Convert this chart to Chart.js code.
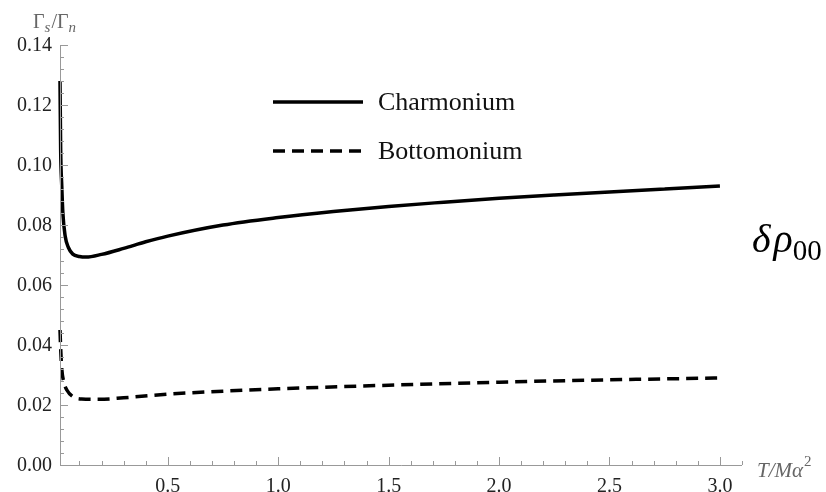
<!DOCTYPE html>
<html>
<head>
<meta charset="utf-8">
<title>Spin-flip ratio</title>
<script src="https://cdn.jsdelivr.net/npm/chart.js@4.4.1/dist/chart.umd.min.js"></script>
<style>
  html, body { margin: 0; padding: 0; background: #fff; overflow: hidden; }
  #wrap { width: 826px; height: 492px; }
</style>
</head>
<body>
<div id="wrap"><canvas id="ratioChart" width="826" height="492"></canvas></div>
<script>
// temperature grid (T / M alpha^2) and ratio values for each system
const tCharm = [0.012, 0.015, 0.02, 0.025, 0.035, 0.05, 0.07, 0.1, 0.13, 0.2, 0.3, 0.4, 0.5, 0.75, 1.0, 1.25, 1.5, 1.75, 2.0, 2.25, 2.5, 2.75, 3.0];
const charmonium = [0.128, 0.105, 0.093, 0.084, 0.0765, 0.0725, 0.0703, 0.0695, 0.0693, 0.0702, 0.0722, 0.0744, 0.0763, 0.0800, 0.0825, 0.0845, 0.0862, 0.0876, 0.0889, 0.0900, 0.0910, 0.0920, 0.0930];

const tBottom = [0.012, 0.015, 0.02, 0.03, 0.043, 0.07, 0.11, 0.19, 0.3, 0.5, 0.75, 1.0, 1.5, 2.0, 2.5, 3.0];
const bottomonium = [0.045, 0.039, 0.032, 0.0275, 0.025, 0.0228, 0.022, 0.0219, 0.0224, 0.0236, 0.0246, 0.0254, 0.0266, 0.0276, 0.0284, 0.029];

const xMajorTicks = [0.5, 1.0, 1.5, 2.0, 2.5, 3.0];
const yMajorTicks = [0.00, 0.02, 0.04, 0.06, 0.08, 0.10, 0.12, 0.14];

const seriesNames = ['Charmonium', 'Bottomonium'];

const toPoints = (xs, ys) => xs.map((x, i) => ({ x: x, y: ys[i] }));

const AXIS_COLOR = '#999';
const LABEL_COLOR = '#222';
const TITLE_COLOR = '#666';
const SERIF = '"Liberation Serif", "DejaVu Serif", serif';

// Mathematica-style frame: axes with inward ticks, labels and annotations
const axesPlugin = {
    id: 'mathAxes',
    afterDatasetsDraw(chart) {
        const ctx = chart.ctx;
        const xs = chart.scales.x;
        const ys = chart.scales.y;
        const area = chart.chartArea;
        ctx.save();

        // axis lines
        ctx.strokeStyle = AXIS_COLOR;
        ctx.lineWidth = 1;
        ctx.beginPath();
        ctx.moveTo(area.left + 0.5, area.top);
        ctx.lineTo(area.left + 0.5, area.bottom + 0.5);
        ctx.lineTo(area.right, area.bottom + 0.5);
        ctx.stroke();

        // y ticks
        ctx.beginPath();
        for (let k = 0; k <= 35; k++) {
            const v = k * 0.004;
            const py = Math.round(ys.getPixelForValue(v)) + 0.5;
            const len = (k % 5 === 0) ? 8 : 4;
            ctx.moveTo(area.left, py);
            ctx.lineTo(area.left + len, py);
        }
        // x ticks
        for (let k = 1; k <= 31; k++) {
            const v = k * 0.1;
            const px = Math.round(xs.getPixelForValue(v)) + 0.5;
            const len = (k % 5 === 0) ? 8 : 4;
            ctx.moveTo(px, area.bottom);
            ctx.lineTo(px, area.bottom - len);
        }
        ctx.stroke();

        // tick labels
        ctx.fillStyle = LABEL_COLOR;
        ctx.font = '20px ' + SERIF;
        ctx.textAlign = 'right';
        ctx.textBaseline = 'middle';
        yMajorTicks.forEach(v => {
            ctx.fillText(v.toFixed(2), area.left - 8, ys.getPixelForValue(v) + 1);
        });
        ctx.textAlign = 'center';
        ctx.textBaseline = 'alphabetic';
        xMajorTicks.forEach(v => {
            ctx.fillText(v.toFixed(1), xs.getPixelForValue(v), area.bottom + 27);
        });

        // axis titles
        ctx.fillStyle = TITLE_COLOR;
        ctx.textAlign = 'left';
        let x = 33;
        const by = 28;
        ctx.font = '20px ' + SERIF;
        ctx.fillText('\u0393', x, by); x += ctx.measureText('\u0393').width;
        ctx.font = 'italic 15px ' + SERIF;
        ctx.fillText('s', x, by + 4); x += ctx.measureText('s').width + 1;
        ctx.font = '20px ' + SERIF;
        ctx.fillText('/\u0393', x, by); x += ctx.measureText('/\u0393').width;
        ctx.font = 'italic 15px ' + SERIF;
        ctx.fillText('n', x, by + 4);

        x = 757;
        const bx = area.bottom + 12;
        ctx.font = 'italic 21px ' + SERIF;
        ctx.fillText('T/M\u03b1', x, bx); x += ctx.measureText('T/M\u03b1').width + 1;
        ctx.font = '15px ' + SERIF;
        ctx.fillText('2', x, bx - 11);

        // side annotation
        ctx.fillStyle = '#000';
        x = 752;
        ctx.font = 'italic 40px ' + SERIF;
        ctx.fillText('\u03b4', x, 252); x += ctx.measureText('\u03b4').width + 3;
        ctx.fillText('\u03c1', x, 252); x += ctx.measureText('\u03c1').width;
        ctx.font = '29px ' + SERIF;
        ctx.fillText('00', x, 260);

        // legend
        const legendRows = [
            { name: seriesNames[0], y: 102, dash: [] },
            { name: seriesNames[1], y: 151, dash: [12, 7] }
        ];
        legendRows.forEach(row => {
            ctx.strokeStyle = '#000';
            ctx.lineWidth = 3.5;
            ctx.setLineDash(row.dash);
            ctx.beginPath();
            ctx.moveTo(273, row.y);
            ctx.lineTo(363, row.y);
            ctx.stroke();
            ctx.setLineDash([]);
            ctx.fillStyle = '#111';
            ctx.font = '26px ' + SERIF;
            ctx.textAlign = 'left';
            ctx.textBaseline = 'middle';
            ctx.fillText(row.name, 378, row.y + 1);
        });
        ctx.restore();
    }
};

new Chart(document.getElementById('ratioChart').getContext('2d'), {
    type: 'scatter',
    data: {
        datasets: [{
            label: seriesNames[0],
            data: toPoints(tCharm, charmonium),
            showLine: true,
            borderColor: '#000',
            borderWidth: 3.5,
            pointRadius: 0,
            cubicInterpolationMode: 'monotone',
            clip: false
        }, {
            label: seriesNames[1],
            data: toPoints(tBottom, bottomonium),
            showLine: true,
            borderColor: '#000',
            borderWidth: 3.5,
            borderDash: [12, 7],
            pointRadius: 0,
            cubicInterpolationMode: 'monotone',
            clip: false
        }]
    },
    options: {
        responsive: false,
        animation: false,
        layout: {
            padding: { left: 60, right: 84, top: 45, bottom: 27 }
        },
        plugins: {
            legend: { display: false },
            tooltip: { enabled: false }
        },
        scales: {
            x: { type: 'linear', min: 0.012, max: 3.1, display: false },
            y: { type: 'linear', min: 0, max: 0.14, display: false }
        }
    },
    plugins: [axesPlugin]
});
</script>
</body>
</html>
